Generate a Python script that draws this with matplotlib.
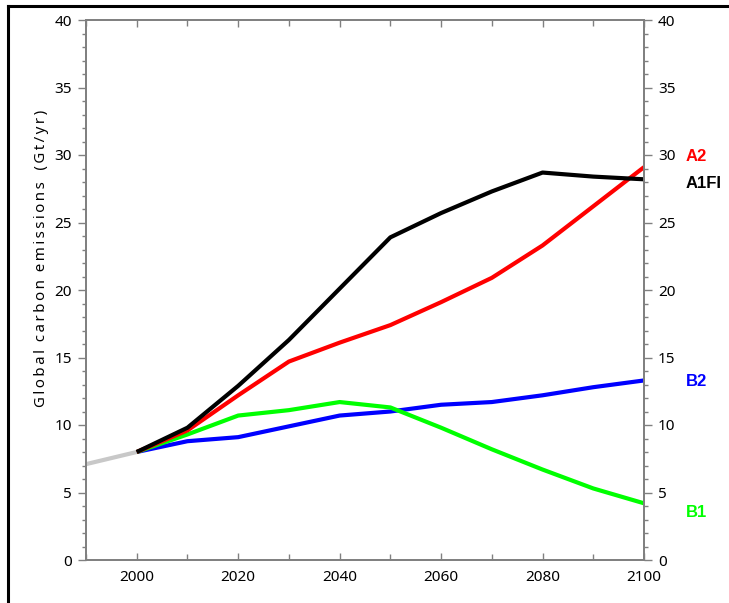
import matplotlib
matplotlib.use("Agg")
import matplotlib.pyplot as plt
from matplotlib.lines import Line2D
from matplotlib.ticker import MultipleLocator

years = [2000, 2010, 2020, 2030, 2040, 2050, 2060, 2070, 2080, 2090, 2100]
a1fi = [8.0, 9.8, 12.9, 16.3, 20.1, 23.9, 25.7, 27.3, 28.7, 28.4, 28.2]
a2 = [8.0, 9.6, 12.2, 14.7, 16.1, 17.4, 19.1, 20.9, 23.3, 26.2, 29.1]
b2 = [8.0, 8.8, 9.1, 9.9, 10.7, 11.0, 11.5, 11.7, 12.2, 12.8, 13.3]
b1 = [8.0, 9.3, 10.7, 11.1, 11.7, 11.3, 9.8, 8.2, 6.7, 5.3, 4.2]
hist_years = [1990, 2000]
hist = [7.1, 8.0]

labels = ["A2", "A1FI", "B2", "B1"]
label_y = [29.9, 27.9, 13.2, 3.5]
colors = ["#ff0000", "#000000", "#0000ff", "#00ff00"]
ylabel_words = ["Global", "carbon", "emissions", "(Gt/yr)"]
ylabel_gaps = ["  ", "  ", "   "]

W, H = 729, 603
fig = plt.figure(figsize=(W / 100, H / 100), dpi=100)
ax = fig.add_axes([86 / W, 1 - 560 / H, (644 - 86) / W, (560 - 20) / H])
ax2 = ax.twinx()

ax.plot(hist_years, hist, color="#c8c8c8", lw=3, solid_capstyle="butt", clip_on=False)
for s, c in zip([b2, b1, a2, a1fi], ["#0000ff", "#00ff00", "#ff0000", "#000000"]):
    ax.plot(years, s, color=c, lw=3, solid_capstyle="butt", solid_joinstyle="round")

for a in (ax, ax2):
    a.set_xlim(1990, 2100)
    a.set_ylim(0, 40)
    for sp in a.spines.values():
        sp.set_color("#808080")
        sp.set_linewidth(1.3)

fam = ["Noto Sans", "DejaVu Sans"]
ax.xaxis.set_major_locator(MultipleLocator(20))
ax.xaxis.set_minor_locator(MultipleLocator(10))
for a in (ax, ax2):
    a.yaxis.set_major_locator(MultipleLocator(5))
    a.yaxis.set_minor_locator(MultipleLocator(1))

ax.tick_params(axis="x", which="both", direction="in", top=True, bottom=True,
               color="#808080", pad=7, labelsize=11)
ax.tick_params(axis="x", which="major", length=5, width=1)
ax.tick_params(axis="x", which="minor", length=4, width=1)
for a in (ax, ax2):
    a.tick_params(axis="y", which="both", direction="out", color="#808080", pad=4, labelsize=11)
    a.tick_params(axis="y", which="major", length=6, width=1)
    a.tick_params(axis="y", which="minor", length=3, width=1)

for lab in ax.get_xticklabels() + ax.get_yticklabels() + ax2.get_yticklabels():
    lab.set_fontfamily(fam)

for a in (ax, ax2):
    ticks = a.yaxis.get_major_ticks()
    for t in ticks:
        t.label1.set_fontfamily(fam)
        t.label2.set_fontfamily(fam)
    ticks[0].label1.set_va("baseline")
    ticks[0].label2.set_va("baseline")
    ticks[-1].label1.set_va("top")
    ticks[-1].label2.set_va("top")

# letter-spaced y label: thin spaces between letters inside words
spaced_words = ["\u2009".join(w) for w in ylabel_words]
spaced = spaced_words[0]
for g, w in zip(ylabel_gaps, spaced_words[1:]):
    spaced += g + w
fig.text(42 / W, 1 - 258 / H, spaced, rotation=90,
         ha="center", va="center", fontsize=10.8, family=fam)

for lab, yv, c in zip(labels, label_y, colors):
    ax.annotate(lab, xy=(1, yv), xycoords=("axes fraction", "data"),
                xytext=(30, 0), textcoords="offset points", ha="left", va="center",
                color=c, fontsize=12, fontweight="bold", family="Liberation Sans",
                annotation_clip=False)

# outer frame
fig.add_artist(Line2D([8 / W, 8 / W], [0, 1 - 6 / H], color="black", lw=2.2,
                      transform=fig.transFigure))
fig.add_artist(Line2D([8 / W, 1], [1 - 6 / H, 1 - 6 / H], color="black", lw=2.2,
                      transform=fig.transFigure))

fig.savefig("out.png", dpi=100)
